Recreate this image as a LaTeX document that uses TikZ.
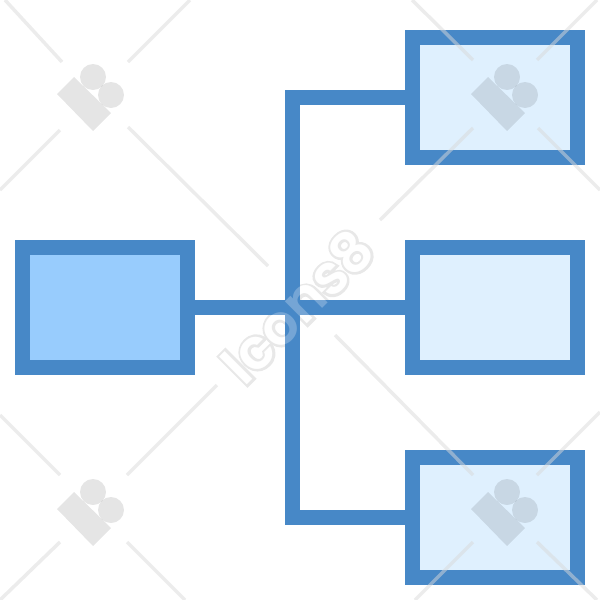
\documentclass[tikz,border=0pt]{standalone}
\usepackage{fontspec}
\newfontfamily\markfont{Poppins}[UprightFont=* SemiBold]
\newfontfamily\markhalo{Poppins}[UprightFont=* SemiBold, FakeBold=9]
\usetikzlibrary{positioning}
\definecolor{edgeblue}{HTML}{4788C7}
\definecolor{rootblue}{HTML}{98CCFD}
\definecolor{leafblue}{HTML}{DFF0FE}
\tikzset{
	card/.style={draw=edgeblue, line width=15pt, minimum width=165pt, minimum height=120pt, inner sep=0pt},
	wire/.style={draw=edgeblue, line width=15pt},
	markline/.style={draw=black!15, line width=3.5pt, opacity=.5},
	marktext/.style={rotate=45, inner sep=0pt, font=\fontsize{56}{56}\selectfont}
}

\begin{document}
\begin{tikzpicture}[x=1pt, y=-1pt]
		\useasboundingbox (0,0) rectangle (600,600);
		\node[marktext, text=black!9] (halo) at (297,306) {\markhalo Icons8};
		\node[marktext, text=white] (face) at (297,306) {\markfont Icons8};
		\coordinate (hub) at (292.5,307.5);
		\node[card, fill=rootblue] (root) at (105,307.5) {};
		\node[card, fill=leafblue] (top) at (495,97.5) {};
		\node[card, fill=leafblue] (mid) at (495,307.5) {};
		\node[card, fill=leafblue] (bot) at (495,517.5) {};
		\draw[wire] (root.east) -- (mid.west);
		\draw[wire] (top.west) -| (hub) |- (bot.west);
		\node[marktext, text=white, opacity=.25] (gloss) at (297,306) {\markfont Icons8};
		\foreach \a/\b/\c/\d in {5/0/62/62, 190/0/128/62, 60/130/0/190, 128/127/268/266,
			412/0/473/60, 597/0/537/60, 473/128/380/220, 538/128/600/190,
			0/415/60/475, 217/385/127/475, 60/542/0/600, 127/542/185/600,
			335/335/473/475, 600/412/537/475, 473/542/415/600, 537/542/597/600}
			\draw[markline] (\a,\b) -- (\c,\d);
		\foreach \x/\y in {0/0, 414/0, 0/415, 414/415} {
			\begin{scope}[shift={(\x,\y)}, fill=black, fill opacity=.1]
				\fill (57,94) -- (74,77) -- (111,113) -- (93,131) -- cycle;
				\fill (93,77) circle (13);
				\fill (111,95) circle (13);
			\end{scope}
		}
	\end{tikzpicture}
\end{document}
